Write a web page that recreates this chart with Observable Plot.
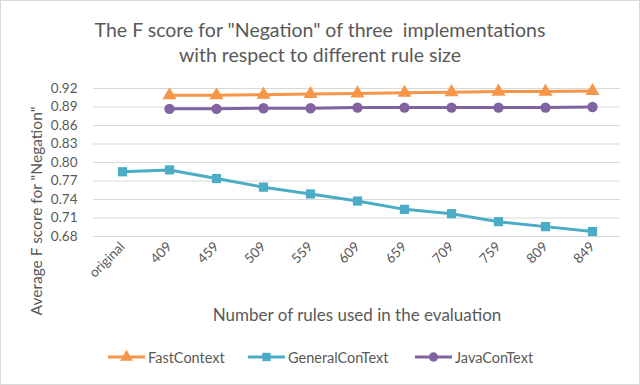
<!DOCTYPE html>
<html><head><meta charset="utf-8">
<script src="https://cdn.jsdelivr.net/npm/d3@7"></script>
<script src="https://cdn.jsdelivr.net/npm/@observablehq/plot@0.6"></script>
<style>
body{margin:0;background:#fff;}
#wrap{position:relative;width:640px;height:385px;font-family:Lato,sans-serif;color:#595959;overflow:hidden;}
#frame{position:absolute;left:0;top:0;width:638px;height:383px;border:1px solid #d9d9d9;pointer-events:none;}
#chart{position:absolute;left:0;top:0;}
.title{position:absolute;left:0;width:640px;text-align:center;font-size:19.5px;line-height:25px;top:17px;white-space:nowrap;}
.xtitle{position:absolute;left:107px;width:500px;text-align:center;font-size:17px;line-height:20px;top:305px;white-space:nowrap;}
.ytitle{position:absolute;left:-89px;top:202px;width:250px;text-align:center;font-size:15.5px;line-height:18px;transform:rotate(-90deg);white-space:nowrap;}
#legend{position:absolute;left:0;top:340px;}
</style></head>
<body>
<div id="wrap">
  <div id="chart"></div>
  <div class="title">The F score for "Negation" of three&nbsp; implementations<br>with respect to different rule size</div>
  <div class="xtitle">Number of rules used in the evaluation</div>
  <div class="ytitle">Average F score for "Negation"</div>
  <svg id="legend" width="640" height="40"></svg>
  <div id="frame"></div>
</div>
<script>
const ruleSizes = ["original","409","459","509","559","609","659","709","759","809","849"];
const seriesNames = ["FastContext","GeneralConText","JavaConText"];
const seriesColors = ["#F79646","#4BACC6","#8064A2"];
const seriesSymbols = ["triangle","square","circle"];
const fastContext = [null,0.909,0.909,0.910,0.911,0.912,0.913,0.914,0.915,0.915,0.916];
const generalConText = [0.785,0.788,0.774,0.760,0.749,0.7375,0.724,0.717,0.704,0.696,0.688];
const javaConText = [null,0.887,0.887,0.888,0.888,0.889,0.889,0.889,0.889,0.889,0.890];
const yTicks = [0.68,0.71,0.74,0.77,0.80,0.83,0.86,0.89,0.92];

const seriesValues = [fastContext, generalConText, javaConText];
const data = [];
seriesNames.forEach((name, i) => {
  seriesValues[i].forEach((v, j) => {
    if (v != null) data.push({series: name, size: ruleSizes[j], value: v});
  });
});

const chart = Plot.plot({
  width: 640, height: 385,
  marginTop: 88, marginBottom: 149, marginLeft: 93, marginRight: 20,
  style: {fontFamily: "Lato, sans-serif", color: "#595959", background: "transparent"},
  x: {type: "point", domain: ruleSizes, padding: 0.5, label: null},
  y: {domain: [0.68, 0.92], label: null},
  color: {domain: seriesNames, range: seriesColors},
  symbol: {domain: seriesNames, range: seriesSymbols},
  marks: [
    Plot.gridY(yTicks, {stroke: "#d9d9d9", strokeOpacity: 1, strokeWidth: 1}),
    Plot.axisY(yTicks, {tickSize: 0, tickPadding: 16, tickFormat: d3.format(".2f"), fontSize: 13.5, fill: "#595959", label: null}),
    Plot.axisX({tickSize: 0, tickPadding: 8, tickRotate: -45, fontSize: 13.5, fill: "#595959", label: null}),
    Plot.line(data, {x: "size", y: "value", stroke: "series", z: "series", strokeWidth: 3}),
    Plot.dot(data, {x: "size", y: "value", symbol: "series", fill: "series", r: 5.2})
  ]
});
document.getElementById("chart").appendChild(chart);

// legend
const lg = d3.select("#legend");
const lineStarts = [108, 248, 415];
const cy = 17;
seriesNames.forEach((name, i) => {
  const x0 = lineStarts[i];
  const g = lg.append("g");
  g.append("line").attr("x1", x0).attr("x2", x0 + 37).attr("y1", cy).attr("y2", cy)
    .attr("stroke", seriesColors[i]).attr("stroke-width", 3);
  const sym = {triangle: d3.symbolTriangle, square: d3.symbolSquare, circle: d3.symbolCircle}[seriesSymbols[i]];
  g.append("path").attr("d", d3.symbol(sym, 70)()).attr("transform", `translate(${x0 + 18.5},${cy})`)
    .attr("fill", seriesColors[i]);
  g.append("text").attr("x", x0 + 40).attr("y", cy + 6).text(name)
    .attr("font-size", "14.5px").attr("fill", "#595959").attr("font-family", "Lato, sans-serif");
});
</script>
</body></html>
